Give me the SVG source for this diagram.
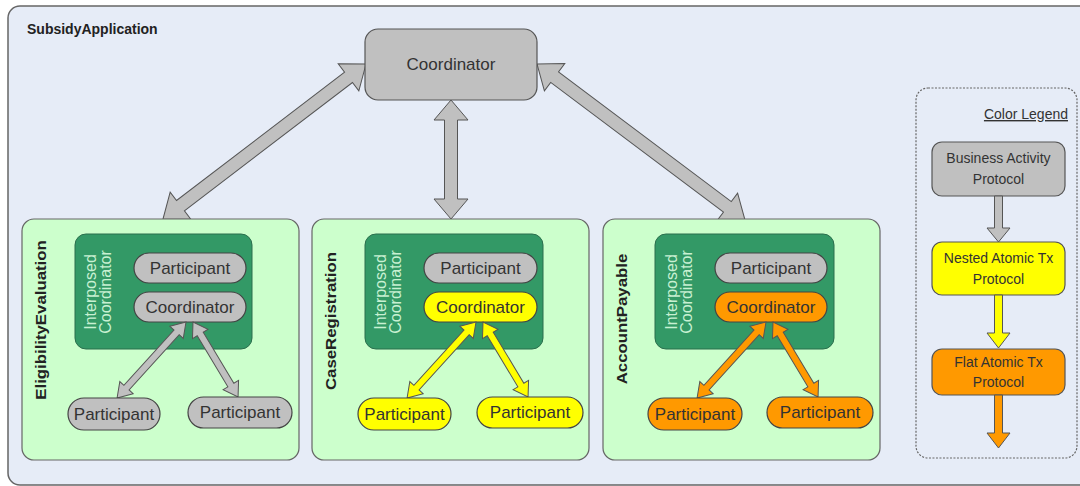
<svg xmlns="http://www.w3.org/2000/svg" width="1080" height="486" viewBox="0 0 1080 486">
<style>
text{font-family:"Liberation Sans",Arial,sans-serif;fill:#333}
.lbl{font-size:15px;font-weight:bold;text-anchor:middle;fill:#222}
.ip{font-size:16px;text-anchor:middle;fill:#c8f0d2}
.pt{font-size:17px;text-anchor:middle}
.lg{font-size:14px;text-anchor:middle}
.gray{fill:#c0c0c0}
.yel{fill:#ffff00}
.org{fill:#ff9900}
.edge{stroke:#555;stroke-width:1}
.pill{stroke:#444;stroke-width:1.2}
</style>
<rect x="8" y="6" width="1090" height="479" rx="12" fill="#e6ecf7" stroke="#666" stroke-width="1.5"/>
<text x="27" y="34" style="font-size:14px;font-weight:bold;fill:#222">SubsidyApplication</text>

<g id="connectors">
  <polygon class="gray edge" transform="translate(163,219) rotate(-37.36)" points="0,0 22,-17 22,-6.5 233.4,-6.5 233.4,-17 255.4,0 233.4,17 233.4,6.5 22,6.5 22,17"/>
  <polygon class="gray edge" transform="translate(451,100) rotate(90)" points="0,0 20,-17 20,-6.5 99,-6.5 99,-17 119,0 99,17 99,6.5 20,6.5 20,17"/>
  <polygon class="gray edge" transform="translate(537,64) rotate(36.87)" points="0,0 22,-17 22,-6.5 238,-6.5 238,-17 260,0 238,17 238,6.5 22,6.5 22,17"/>
</g>

<g id="top-coordinator">
  <rect x="365" y="29" width="172" height="71" rx="13" class="gray" stroke="#555" stroke-width="1.2"/>
  <text x="451" y="70" class="pt">Coordinator</text>
</g>

<g id="eligibility">
  <rect x="22" y="219" width="277" height="241" rx="12" fill="#ccffcc" stroke="#666" stroke-width="1.2"/>
  <text class="lbl" transform="translate(46,320) scale(1,1.12) rotate(-90)">EligibilityEvaluation</text>
  <rect x="75" y="234" width="177" height="115" rx="11" fill="#339966" stroke="#2a6e4c"/>
  <text class="ip" transform="translate(96,292) rotate(-90)">Interposed</text>
  <text class="ip" transform="translate(111,292) rotate(-90)">Coordinator</text>
  <rect x="134" y="253" width="112" height="30" rx="15" class="gray pill"/>
  <text x="190" y="274" class="pt">Participant</text>
  <rect x="134" y="292" width="112" height="30" rx="15" class="gray pill"/>
  <text x="190" y="313" class="pt">Coordinator</text>
  <polygon class="gray edge" transform="translate(186,322) rotate(132.2)" points="0,0 14,-9 14,-3.5 88.6,-3.5 88.6,-9 102.6,0 88.6,9 88.6,3.5 14,3.5 14,9"/>
  <polygon class="gray edge" transform="translate(193,322) rotate(59)" points="0,0 14,-9 14,-3.5 73.5,-3.5 73.5,-9 87.5,0 73.5,9 73.5,3.5 14,3.5 14,9"/>
  <rect x="68" y="398" width="92" height="32" rx="16" class="gray pill"/>
  <text x="114" y="420" class="pt">Participant</text>
  <rect x="188" y="397" width="104" height="31" rx="15.5" class="gray pill"/>
  <text x="240" y="418" class="pt">Participant</text>
</g>

<g id="caseregistration">
  <rect x="312" y="219" width="277" height="241" rx="12" fill="#ccffcc" stroke="#666" stroke-width="1.2"/>
  <text class="lbl" transform="translate(336,321) scale(1,1.12) rotate(-90)">CaseRegistration</text>
  <rect x="365" y="234" width="178" height="115" rx="11" fill="#339966" stroke="#2a6e4c"/>
  <text class="ip" transform="translate(386,292) rotate(-90)">Interposed</text>
  <text class="ip" transform="translate(401,292) rotate(-90)">Coordinator</text>
  <rect x="424" y="253" width="113" height="30" rx="15" class="gray pill"/>
  <text x="480.5" y="274" class="pt">Participant</text>
  <rect x="424" y="292" width="113" height="30" rx="15" class="yel pill"/>
  <text x="480.5" y="313" class="pt">Coordinator</text>
  <polygon class="yel edge" transform="translate(476,322) rotate(132.2)" points="0,0 14,-9 14,-3.5 88.6,-3.5 88.6,-9 102.6,0 88.6,9 88.6,3.5 14,3.5 14,9"/>
  <polygon class="yel edge" transform="translate(483,322) rotate(59)" points="0,0 14,-9 14,-3.5 73.5,-3.5 73.5,-9 87.5,0 73.5,9 73.5,3.5 14,3.5 14,9"/>
  <rect x="358" y="398" width="93" height="32" rx="16" class="yel pill"/>
  <text x="404.5" y="420" class="pt">Participant</text>
  <rect x="477" y="397" width="106" height="31" rx="15.5" class="yel pill"/>
  <text x="530" y="418" class="pt">Participant</text>
</g>

<g id="accountpayable">
  <rect x="603" y="219" width="277" height="241" rx="12" fill="#ccffcc" stroke="#666" stroke-width="1.2"/>
  <text class="lbl" transform="translate(627,319) scale(1,1.12) rotate(-90)">AccountPayable</text>
  <rect x="655" y="234" width="179" height="115" rx="11" fill="#339966" stroke="#2a6e4c"/>
  <text class="ip" transform="translate(677,292) rotate(-90)">Interposed</text>
  <text class="ip" transform="translate(692,292) rotate(-90)">Coordinator</text>
  <rect x="715" y="253" width="112" height="30" rx="15" class="gray pill"/>
  <text x="771" y="274" class="pt">Participant</text>
  <rect x="715" y="292" width="112" height="30" rx="15" class="org pill"/>
  <text x="771" y="313" class="pt">Coordinator</text>
  <polygon class="org edge" transform="translate(766,322) rotate(132.2)" points="0,0 14,-9 14,-3.5 88.6,-3.5 88.6,-9 102.6,0 88.6,9 88.6,3.5 14,3.5 14,9"/>
  <polygon class="org edge" transform="translate(773,322) rotate(59)" points="0,0 14,-9 14,-3.5 73.5,-3.5 73.5,-9 87.5,0 73.5,9 73.5,3.5 14,3.5 14,9"/>
  <rect x="648" y="398" width="94" height="32" rx="16" class="org pill"/>
  <text x="695" y="420" class="pt">Participant</text>
  <rect x="767" y="397" width="106" height="31" rx="15.5" class="org pill"/>
  <text x="820" y="418" class="pt">Participant</text>
</g>

<g id="legend">
  <rect x="916" y="88" width="161" height="370" rx="12" fill="none" stroke="#666" stroke-width="1.2" stroke-dasharray="2,1.5"/>
  <text x="1068" y="119" style="font-size:14px;text-anchor:end;text-decoration:underline">Color Legend</text>
  <rect x="932" y="142" width="133" height="54" rx="10" class="gray" stroke="#555" stroke-width="1.2"/>
  <text x="998.5" y="163" class="lg">Business Activity</text>
  <text x="998.5" y="184" class="lg">Protocol</text>
  <polygon class="gray edge" points="994.5,196 1002.5,196 1002.5,228 1010,228 998.5,242 987,228 994.5,228"/>
  <rect x="932" y="242" width="133" height="53" rx="10" class="yel" stroke="#555" stroke-width="1.2"/>
  <text x="998.5" y="263" class="lg">Nested Atomic Tx</text>
  <text x="998.5" y="284" class="lg">Protocol</text>
  <polygon class="yel edge" points="994.5,295 1002.5,295 1002.5,333 1010,333 998.5,348 987,333 994.5,333"/>
  <rect x="932" y="349" width="133" height="46" rx="10" class="org" stroke="#555" stroke-width="1.2"/>
  <text x="998.5" y="367" class="lg">Flat Atomic Tx</text>
  <text x="998.5" y="387" class="lg">Protocol</text>
  <polygon class="org edge" points="994.5,395 1002.5,395 1002.5,433 1010,433 998.5,448 987,433 994.5,433"/>
</g>
</svg>
